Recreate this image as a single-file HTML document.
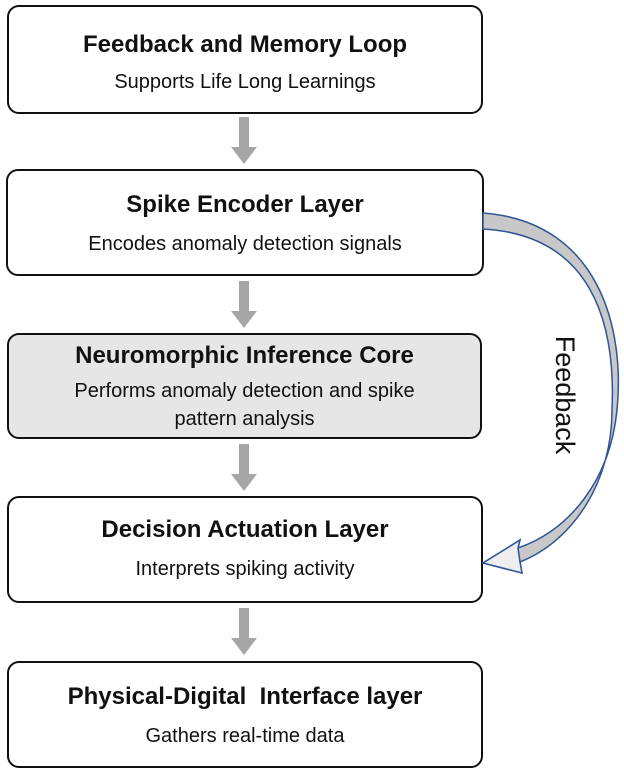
<!DOCTYPE html>
<html><head><style>
body{margin:0;width:624px;height:772px;background:#fff;font-family:"Liberation Sans",sans-serif;position:relative;overflow:hidden}
.b{position:absolute;box-sizing:border-box;border:2px solid #111;border-radius:12px;background:#fff;text-align:center;color:#111;white-space:nowrap}
.b h{display:block;font-weight:bold;font-size:24px;line-height:30px}
.b p{margin:0;font-size:20px;line-height:28px}
</style></head><body>
<div class="b" style="left:7px;top:5px;width:476px;height:109px;padding-top:23px"><h>Feedback and Memory Loop</h><p style="margin-top:8px">Supports Life Long Learnings</p></div>
<div class="b" style="left:6px;top:169px;width:478px;height:107px;padding-top:19px"><h>Spike Encoder Layer</h><p style="margin-top:10px">Encodes anomaly detection signals</p></div>
<div class="b" style="left:7px;top:333px;width:475px;height:106px;padding-top:6px;background:#e6e6e6"><h>Neuromorphic Inference Core</h><p style="margin-top:6px">Performs anomaly detection and spike<br>pattern analysis</p></div>
<div class="b" style="left:7px;top:496px;width:476px;height:107px;padding-top:17px"><h>Decision Actuation Layer</h><p style="margin-top:10px">Interprets spiking activity</p></div>
<div class="b" style="left:7px;top:661px;width:476px;height:107px;padding-top:19px"><h>Physical-Digital&nbsp; Interface layer</h><p style="margin-top:10px">Gathers real-time data</p></div>
<svg width="624" height="772" style="position:absolute;left:0;top:0">
<g fill="#a6a6a6">
<path d="M239 117h10v30h8l-13 17-13-17h8z"/>
<path d="M239 281h10v30h8l-13 17-13-17h8z"/>
<path d="M239 444h10v30h8l-13 17-13-17h8z"/>
<path d="M239 608h10v30h8l-13 17-13-17h8z"/>
</g>
<path d="M483 213 C600 222 625 330 617 410 C610 480 570 530 518 548 L520 540 L483 563 L522 573 L520 562 C575 540 612 480 612 410 C616 320 590 235 483 229 Z" fill="#c8c8c8" stroke="#2f5597" stroke-width="1.5"/>
<path d="M518 548 L520 540 L483 563 L522 573 L520 562 Z" fill="#eeeeee" stroke="#2f5597" stroke-width="1.5"/>
<text transform="translate(556,395) rotate(90)" text-anchor="middle" font-size="27" fill="#111" font-family="Liberation Sans, sans-serif">Feedback</text>
</svg>
</body></html>
